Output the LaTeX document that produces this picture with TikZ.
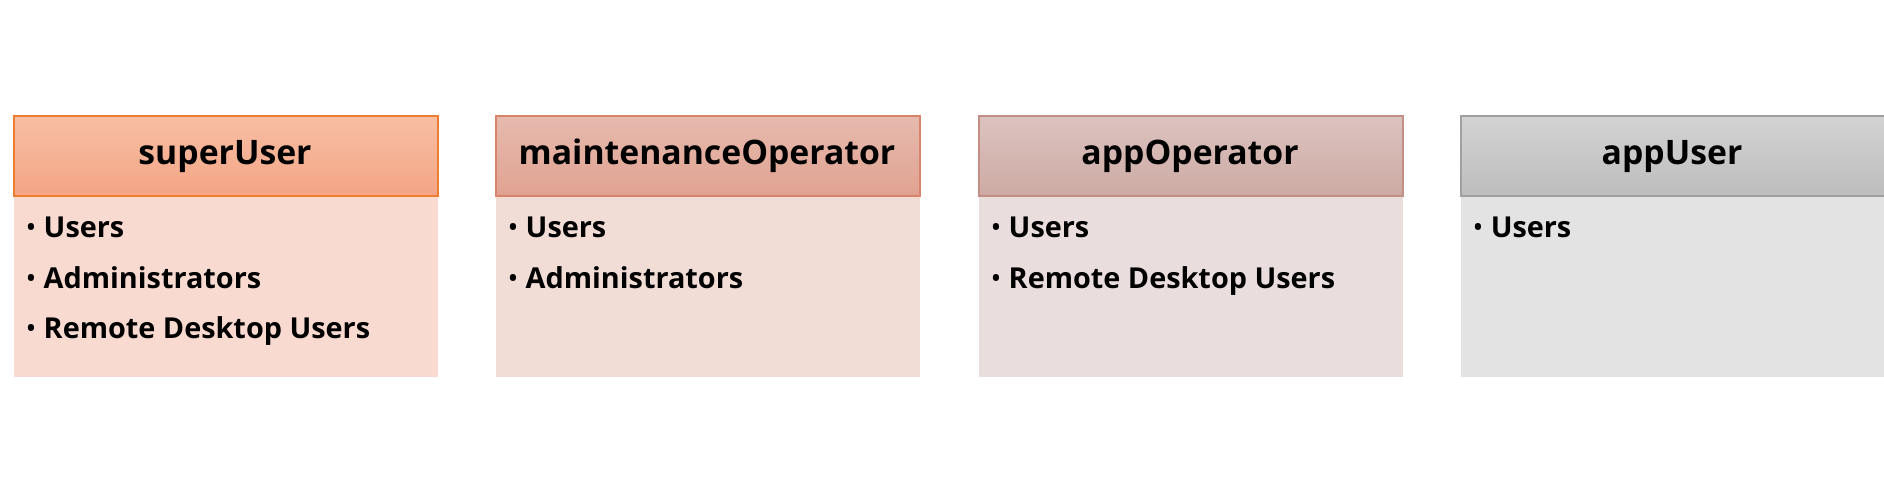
\documentclass[tikz,border=0pt]{standalone}
\usepackage{fontspec}
\setmainfont{Open Sans}
\usepackage{tikz}
\usetikzlibrary{positioning}
\usepackage{xcolor}
\definecolor{suLine}{HTML}{ED7D31}
\definecolor{suTop}{HTML}{F7BEA4}
\definecolor{suBot}{HTML}{F4A585}
\definecolor{suBody}{HTML}{F8DAD0}
\definecolor{moLine}{HTML}{D8836B}
\definecolor{moTop}{HTML}{E6BAAE}
\definecolor{moBot}{HTML}{E0A291}
\definecolor{moBody}{HTML}{F1DCD6}
\definecolor{aoLine}{HTML}{C28E86}
\definecolor{aoTop}{HTML}{DCC3BF}
\definecolor{aoBot}{HTML}{CDAAA4}
\definecolor{aoBody}{HTML}{EADDDD}
\definecolor{auLine}{HTML}{A0A0A0}
\definecolor{auTop}{HTML}{D3D3D3}
\definecolor{auBot}{HTML}{BDBDBD}
\definecolor{auBody}{HTML}{E3E3E3}
\newcommand{\bulletmark}{\textnormal{•}\hspace{0.25em}}
\tikzset{head/.style={rectangle,anchor=north west,inner sep=0pt,minimum width=4.24cm,minimum height=0.8cm,line width=0.5pt},body/.style={rectangle,anchor=north west,inner sep=0pt,minimum width=4.24cm,minimum height=1.81cm},title/.style={anchor=base,inner sep=0pt,font=\bfseries\fontsize{9.6}{12}\selectfont},item/.style={anchor=base west,inner sep=0pt,font=\bfseries\fontsize{8.2}{10}\selectfont}}

\begin{document}
\begin{tikzpicture}

\useasboundingbox (0,0) rectangle (18.84,-4.90);

% superUser
\node (b1) at (0.13,-1.95)[body,fill=suBody]{};
\node (h1) at (0.13,-1.15)[head,draw=suLine,top color=suTop,bottom color=suBot]{};
\node (t1) at (2.25,-1.64)[title]{superUser};
\node (i11) at (0.25,-2.37)[item]{\bulletmark Users};
\node (i12) at (0.25,-2.88)[item]{\bulletmark Administrators};
\node (i13) at (0.25,-3.38)[item]{\bulletmark Remote Desktop Users};

% maintenanceOperator
\node (b2) at (4.95,-1.95)[body,fill=moBody]{};
\node (h2) at (4.95,-1.15)[head,draw=moLine,top color=moTop,bottom color=moBot]{};
\node (t2) at (7.07,-1.64)[title]{maintenanceOperator};
\node (i21) at (5.07,-2.37)[item]{\bulletmark Users};
\node (i22) at (5.07,-2.88)[item]{\bulletmark Administrators};

% appOperator
\node (b3) at (9.78,-1.95)[body,fill=aoBody]{};
\node (h3) at (9.78,-1.15)[head,draw=aoLine,top color=aoTop,bottom color=aoBot]{};
\node (t3) at (11.90,-1.64)[title]{appOperator};
\node (i31) at (9.90,-2.37)[item]{\bulletmark Users};
\node (i32) at (9.90,-2.88)[item]{\bulletmark Remote Desktop Users};

% appUser
\node (b4) at (14.60,-1.95)[body,fill=auBody]{};
\node (h4) at (14.60,-1.15)[head,draw=auLine,top color=auTop,bottom color=auBot]{};
\node (t4) at (16.72,-1.64)[title]{appUser};
\node (i41) at (14.72,-2.37)[item]{\bulletmark Users};

\end{tikzpicture}
\end{document}
